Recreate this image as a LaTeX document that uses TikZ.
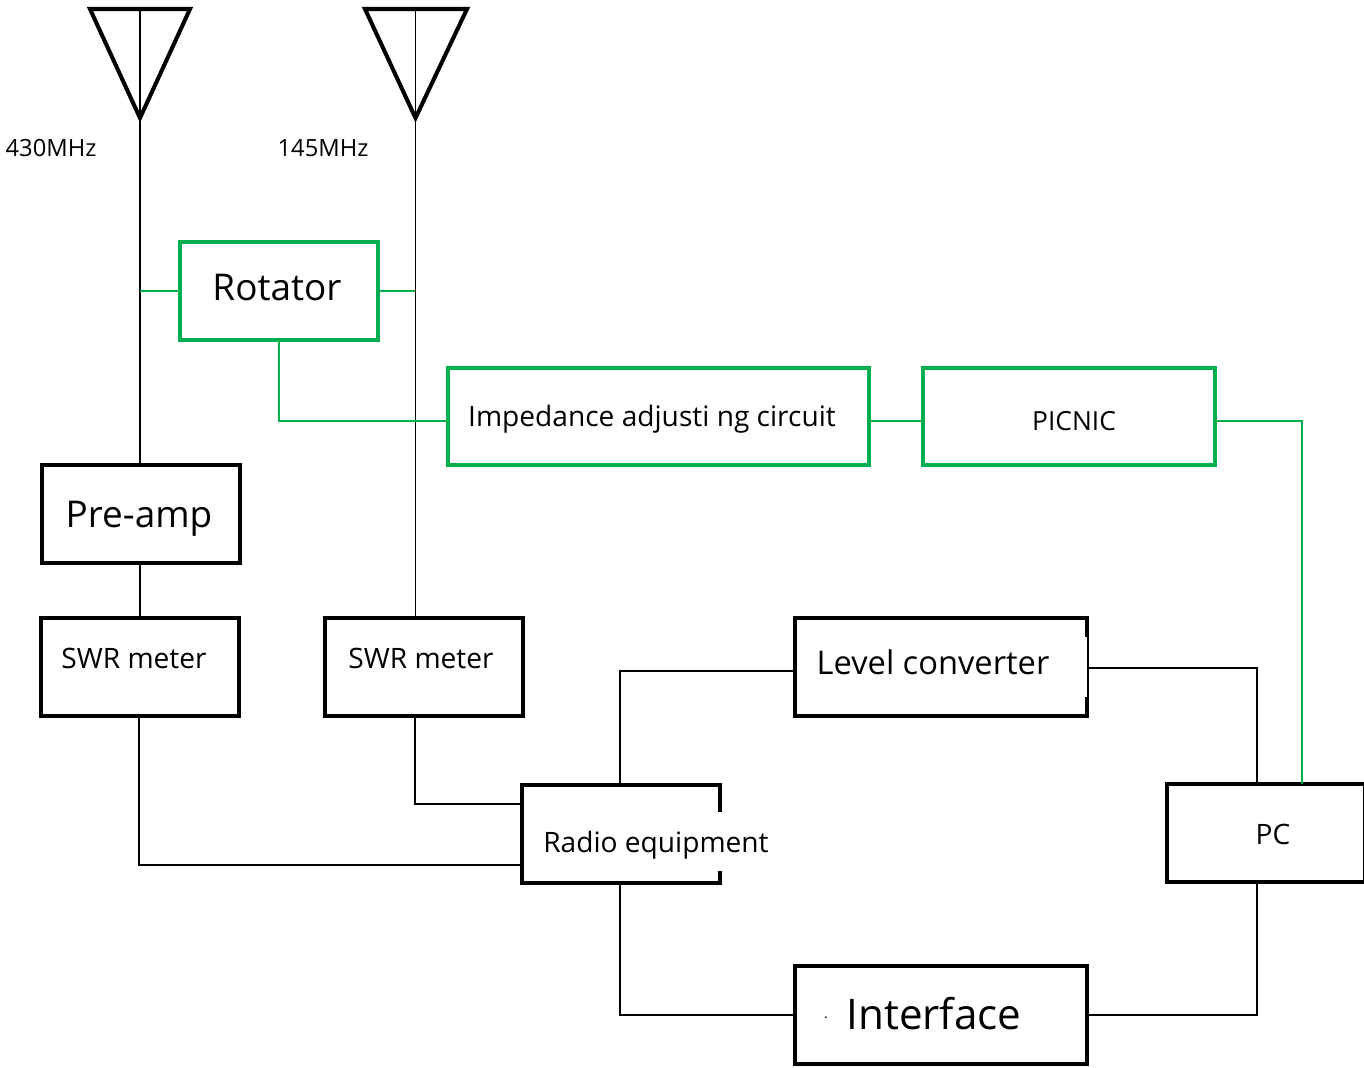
\documentclass[tikz,border=0pt]{standalone}
\usepackage{fontspec}
\setmainfont{Open Sans}
\definecolor{boxgreen}{RGB}{0,176,80}
\tikzset{
  blackbox/.style={draw=black,line width=2.3pt,rectangle,anchor=north west,inner sep=0pt,outer sep=0pt},
  greenbox/.style={draw=boxgreen,line width=2.3pt,rectangle,anchor=north west,inner sep=0pt,outer sep=0pt},
  blackwire/.style={draw=black,line width=1pt},
  greenwire/.style={draw=boxgreen,line width=1pt},
  antenna/.style={draw=black,line width=2.3pt,line join=miter},
  gapline/.style={draw=white,line cap=butt},
  lbl/.style={inner sep=0pt,text=black}
}
\begin{document}
\begin{tikzpicture}[x=0.02cm,y=-0.02cm]
\useasboundingbox (0,0) rectangle (1364,1067);
% antennas
\coordinate (a1l) at (90,9);
\coordinate (a1r) at (190,9);
\coordinate (a1b) at (140,118);
\coordinate (a1t) at (140,9);
\coordinate (a2l) at (365,9);
\coordinate (a2r) at (467,9);
\coordinate (a2b) at (415.5,118);
\coordinate (a2t) at (415.5,9);
\draw[antenna] (a1l) -- (a1r) -- (a1b) -- cycle;
\draw[antenna] (a2l) -- (a2r) -- (a2b) -- cycle;
\draw[blackwire] (a1t) -- (a1b);
\draw[blackwire] (a2t) -- (a2b);
\node[lbl,font=\fontsize{13.5pt}{16pt}\selectfont] (f430) at (51,148) {430MHz};
\node[lbl,font=\fontsize{13.5pt}{16pt}\selectfont] (f145) at (323,148) {145MHz};
% boxes
\node[greenbox,minimum width=3.96cm,minimum height=1.96cm] (rot) at (180,242) {};
\node[greenbox,minimum width=8.42cm,minimum height=1.94cm] (imp) at (448,368) {};
\node[greenbox,minimum width=5.84cm,minimum height=1.94cm] (pic) at (923,368) {};
\node[blackbox,minimum width=3.96cm,minimum height=1.96cm] (pre) at (42,465) {};
\node[blackbox,minimum width=3.96cm,minimum height=1.96cm] (swra) at (41,618) {};
\node[blackbox,minimum width=3.96cm,minimum height=1.96cm] (swrb) at (325,618) {};
\node[blackbox,minimum width=5.84cm,minimum height=1.96cm] (lev) at (795,618) {};
\node[blackbox,minimum width=3.96cm,minimum height=1.96cm] (rad) at (522,785) {};
\node[blackbox,minimum width=3.96cm,minimum height=1.96cm] (pc) at (1167,784) {};
\node[blackbox,minimum width=5.84cm,minimum height=1.96cm] (int) at (795,966) {};
% broken borders
\draw[gapline,line width=3pt] (720,812) -- (720,871);
\draw[gapline,line width=1.4pt] (1085.5,637) -- (1085.5,697);
% labels
\node[lbl,font=\fontsize{21pt}{25pt}\selectfont] (trot) at (277,288) {Rotator};
\node[lbl,font=\fontsize{16pt}{19pt}\selectfont] (timp) at (652,419) {Impedance adjusti ng circuit};
\node[lbl,font=\fontsize{15pt}{18pt}\selectfont] (tpic) at (1074,421) {PICNIC};
\node[lbl,font=\fontsize{21pt}{25pt}\selectfont] (tpre) at (139,519) {Pre-amp};
\node[lbl,font=\fontsize{16pt}{19pt}\selectfont] (tswra) at (134,658) {SWR meter};
\node[lbl,font=\fontsize{16pt}{19pt}\selectfont] (tswrb) at (421,658) {SWR meter};
\node[lbl,font=\fontsize{18.6pt}{23pt}\selectfont] (tlev) at (933,662) {Level converter};
\node[lbl,font=\fontsize{16pt}{19pt}\selectfont] (trad) at (656,845) {Radio equipment};
\node[lbl,font=\fontsize{16pt}{19pt}\selectfont] (tpc) at (1273,834) {PC};
\node[lbl,font=\fontsize{24pt}{28pt}\selectfont] (tint) at (934,1014) {Interface};
\node[lbl,font=\fontsize{8pt}{10pt}\selectfont] (tdot) at (826,1018) {.};
% black wires
\draw[blackwire] (a1b) -- (pre.north -| a1b);
\draw[blackwire] (a2b) -- (swrb.north -| a2b);
\draw[blackwire] (pre.south -| 140,0) -- (swra.north -| 140,0);
\draw[blackwire] (swra.south -| 139,0) -- (139,865) -- (rad.west |- 0,865);
\draw[blackwire] (swrb.south -| 415,0) -- (415,804) -- (rad.west |- 0,804);
\draw[blackwire] (rad.north -| 620,0) -- (620,671) -- (lev.west |- 0,671);
\draw[blackwire] (lev.east |- 0,668) -- (1257,668) -- (pc.north -| 1257,0);
\draw[blackwire] (rad.south -| 620,0) -- (620,1015) -- (int.west);
\draw[blackwire] (int.east) -- (1257,1015) -- (pc.south -| 1257,0);
% green wires
\draw[greenwire] (140,291) -- (rot.west |- 0,291);
\draw[greenwire] (rot.east |- 0,291) -- (415,291);
\draw[greenwire] (rot.south -| 279,0) -- (279,421) -- (imp.west |- 0,421);
\draw[greenwire] (imp.east |- 0,421) -- (pic.west |- 0,421);
\draw[greenwire] (pic.east |- 0,421) -- (1302,421) -- (pc.north -| 1302,0);
\end{tikzpicture}
\end{document}
